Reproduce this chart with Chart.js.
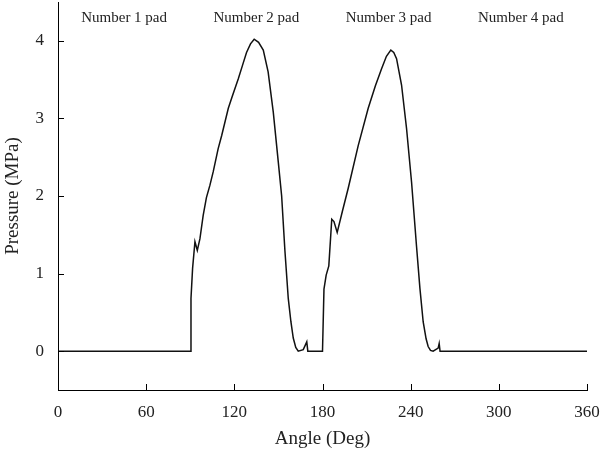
<!DOCTYPE html>
<html>
<head>
<meta charset="utf-8">
<script src="https://cdn.jsdelivr.net/npm/chart.js@4/dist/chart.umd.min.js"></script>
<style>
  html, body { margin: 0; padding: 0; background: #fff; }
  #wrap { width: 603px; height: 458px; position: relative; }
</style>
</head>
<body>
<div id="wrap"><canvas id="grafica"></canvas></div>
<script>
// Datos: angulo (Deg) y presion (MPa)
const angleDeg = [
  0, 90.3, 90.5, 91.6, 93.2, 94.8, 96.6, 98.8, 101, 103.4, 105.6, 109, 111.4,
  115.9, 118.5, 122.7, 125.5, 128.3, 131, 133.5, 136.5, 139.7, 143, 146.5,
  149.9, 152.2, 154.4, 156.7, 158.5, 160.1, 161.8, 163.5, 166.9, 169.3, 170,
  180, 181, 182.5, 184.3, 186.3, 187.8, 190, 193.5, 197.5, 204.3, 211.1, 216,
  220.2, 223.5, 226.5, 228.5, 230.4, 233.8, 237.2, 240.6, 244, 246.3, 248.5,
  250.5, 251.9, 253.5, 255.3, 258.7, 259.4, 260, 360
];
const pressure = [
  0, 0, 0.68, 1.07, 1.41, 1.30, 1.45, 1.75, 1.98, 2.14, 2.31, 2.61, 2.78,
  3.13, 3.28, 3.51, 3.68, 3.85, 3.96, 4.02, 3.98, 3.88, 3.60, 3.08,
  2.44, 2.00, 1.30, 0.68, 0.38, 0.17, 0.05, 0, 0.02, 0.12, 0,
  0, 0.80, 0.98, 1.10, 1.70, 1.67, 1.53, 1.80, 2.10, 2.65, 3.13, 3.42,
  3.64, 3.80, 3.88, 3.85, 3.77, 3.43, 2.87, 2.18, 1.35, 0.81, 0.38,
  0.16, 0.06, 0.01, 0, 0.04, 0.10, 0, 0
];

// Etiquetas de ticks
const xTicks = [0, 60, 120, 180, 240, 300, 360];
const yTicks = [0, 1, 2, 3, 4];

// Etiquetas de las zapatas y su angulo central
const padLabels = ['Number 1 pad', 'Number 2 pad', 'Number 3 pad', 'Number 4 pad'];
const padCenters = [45, 135, 225, 315];

const serif = '"Liberation Serif", "DejaVu Serif", serif';

// Ticks hacia dentro y etiquetas de las zapatas
const extrasPlugin = {
  id: 'extras',
  afterDraw(chart) {
    const { ctx, chartArea, scales } = chart;
    ctx.save();
    ctx.strokeStyle = '#000';
    ctx.lineWidth = 1;
    xTicks.forEach(v => {
      const px = Math.round(scales.x.getPixelForValue(v)) + 0.5;
      ctx.beginPath();
      ctx.moveTo(px, chartArea.bottom);
      ctx.lineTo(px, chartArea.bottom - 6);
      ctx.stroke();
    });
    yTicks.forEach(v => {
      const py = Math.round(scales.y.getPixelForValue(v)) + 0.5;
      ctx.beginPath();
      ctx.moveTo(chartArea.left, py);
      ctx.lineTo(chartArea.left + 6, py);
      ctx.stroke();
    });
    ctx.fillStyle = '#222';
    ctx.font = '15px ' + serif;
    ctx.textAlign = 'center';
    ctx.textBaseline = 'middle';
    padLabels.forEach((txt, i) => {
      ctx.fillText(txt, scales.x.getPixelForValue(padCenters[i]), 18);
    });
    ctx.restore();
  }
};

new Chart(document.getElementById('grafica'), {
  type: 'scatter',
  data: {
    datasets: [{
      data: angleDeg.map((a, i) => ({ x: a, y: pressure[i] })),
      showLine: true,
      borderColor: '#111',
      borderWidth: 1.5,
      pointRadius: 0,
      tension: 0,
    }],
  },
  options: {
    responsive: true,
    maintainAspectRatio: false,
    animation: false,
    layout: { padding: { top: 2, right: 16, left: 0, bottom: 0 } },
    plugins: {
      legend: { display: false },
      tooltip: { enabled: false },
    },
    scales: {
      x: {
        type: 'linear',
        min: 0,
        max: 360,
        afterBuildTicks: axis => { axis.ticks = xTicks.map(v => ({ value: v })); },
        afterFit: axis => { axis.height = 68; axis.paddingLeft = 0; axis.paddingRight = 0; },
        grid: { display: false },
        border: { display: true, color: '#000', width: 1 },
        ticks: { color: '#222', font: { family: serif, size: 17 }, padding: 4, maxRotation: 0 },
        title: { display: true, text: 'Angle (Deg)', color: '#222', font: { family: serif, size: 19 }, padding: { top: 0, bottom: 8 } },
      },
      y: {
        min: -0.5,
        max: 4.5,
        afterBuildTicks: axis => { axis.ticks = yTicks.map(v => ({ value: v })); },
        afterFit: axis => { axis.width = 58; axis.paddingTop = 0; axis.paddingBottom = 0; },
        grid: { display: false },
        border: { display: true, color: '#000', width: 1 },
        ticks: { color: '#222', font: { family: serif, size: 17 }, padding: 6 },
        title: { display: true, text: 'Pressure (MPa)', color: '#222', font: { family: serif, size: 19 }, padding: { top: 2, bottom: 0 } },
      },
    },
  },
  plugins: [extrasPlugin],
});
</script>
</body>
</html>
